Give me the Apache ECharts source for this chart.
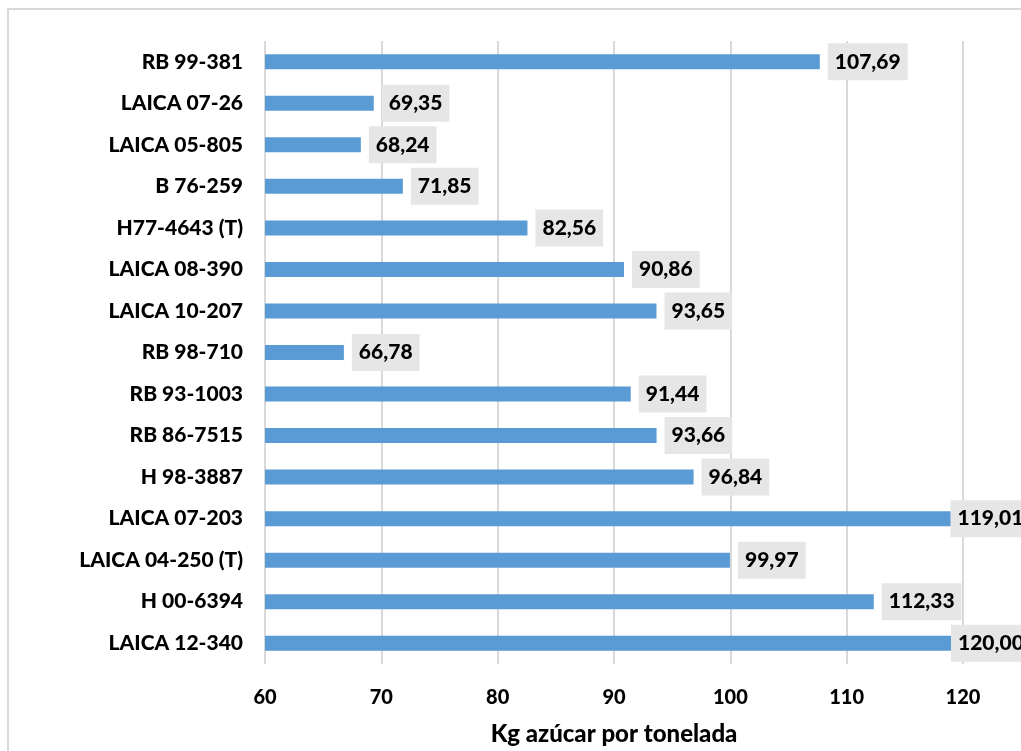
<!DOCTYPE html>
<html><head><meta charset="utf-8">
<script src="https://cdn.jsdelivr.net/npm/echarts@6/dist/echarts.min.js"></script>
<style>html,body{margin:0;padding:0;background:#fff}#c{width:1021px;height:751px}</style>
</head><body><div id="c"></div>
<script>
const categories = ["RB 99-381","LAICA 07-26","LAICA 05-805","B 76-259","H77-4643 (T)","LAICA 08-390","LAICA 10-207","RB 98-710","RB 93-1003","RB 86-7515","H 98-3887","LAICA 07-203","LAICA 04-250 (T)","H 00-6394","LAICA 12-340"];
const values = [107.69,69.35,68.24,71.85,82.56,90.86,93.65,66.78,91.44,93.66,96.84,119.01,99.97,112.33,120.00];
const xTicks = [60,70,80,90,100,110,120];
const axisTitle = "Kg azúcar por tonelada";

const FONT = 'Lato, "Open Sans", sans-serif';
const W = 900;
const chart = echarts.init(document.getElementById('c'));
const data = values.map(v => {
  const item = {value: v};
  if (v >= 119.5) item.label = {distance: -12};
  else if (v >= 118.5) item.label = {distance: -1};
  return item;
});
chart.setOption({
  animation: false,
  graphic: [{type:'rect', shape:{x:8, y:9, width:1200, height:900}, style:{fill:'none', stroke:'#d9d9d9', lineWidth:2}, z:-1}],
  grid: {left: 265, right: 58, top: 41, bottom: 82, containLabel: false},
  xAxis: {
    type: 'value', min: xTicks[0], max: xTicks[xTicks.length-1], interval: 10,
    axisLine: {show:false}, axisTick: {show:false},
    splitLine: {lineStyle: {color:'#d9d9d9', width:2}},
    axisLabel: {color:'#000', fontWeight:W, fontSize:20, fontFamily:FONT, margin:24},
    name: axisTitle, nameLocation:'middle', nameGap: 58,
    nameTextStyle: {color:'#000', fontWeight:W, fontSize:24, fontFamily:FONT}
  },
  yAxis: {
    type: 'category', data: categories, inverse: true,
    axisLine: {show:false}, axisTick: {show:false},
    axisLabel: {color:'#000', fontWeight:W, fontSize:21, fontFamily:FONT, margin:22}
  },
  series: [{
    type: 'bar', data: data, barWidth: 15,
    itemStyle: {color:'#5b9bd5'},
    label: {
      show: true, position: 'right', distance: 8,
      formatter: p => p.value.toFixed(2).replace('.', ','),
      color:'#000', fontWeight:W, fontSize:21, fontFamily:FONT,
      backgroundColor:'#e7e6e6', padding:[8,7,8,7]
    }
  }]
});
</script></body></html>
